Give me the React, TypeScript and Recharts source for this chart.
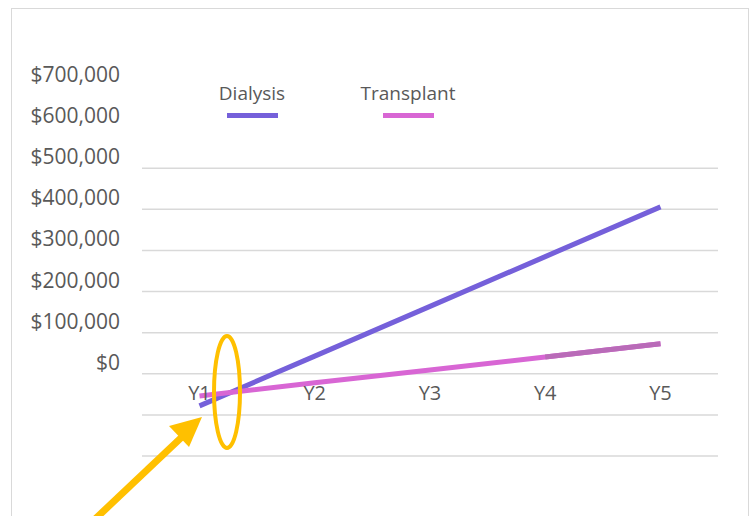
import { LineChart, Line, XAxis, YAxis, ReferenceLine, Legend } from 'recharts';

const years = ['Y1', 'Y2', 'Y3', 'Y4', 'Y5'];
const dialysis = [-78000, 43000, 164000, 285000, 406000];
const transplant = [-54000, -22000, 9000, 41000, 73000];
const yTicks = [-200000, -100000, 0, 100000, 200000, 300000, 400000, 500000, 600000, 700000];
const gridValues = [-200000, -100000, 0, 100000, 200000, 300000, 400000, 500000];

const DIALYSIS = '#7560DA';
const TRANSPLANT = '#D866D4';
const TRANSPLANT_TAIL = '#B96BB8';
const TEXT = '#595959';
const FONT = '"Open Sans", sans-serif';

const data = years.map((y, i) => ({
    year: y,
    dialysis: dialysis[i],
    transplant: transplant[i],
    // last segment is drawn in a slightly different shade
    transplantTail: i >= 3 ? transplant[i] : null,
}));

const money = (v: number) => '$' + v.toLocaleString('en-US');

const YTick = ({ x, y, payload }: any) => {
    if (payload.value < 0) return null;
    return (
        <text x={x - 14} y={y - 12} textAnchor="end" dominantBaseline="central"
            fill={TEXT} fontSize={21} fontFamily={FONT}>
            {money(payload.value)}
        </text>
    );
};

const XTick = ({ x, y, payload }: any) => (
    <text x={x} y={y - 66} textAnchor="middle" dominantBaseline="central"
        fill={TEXT} fontSize={20} fontFamily={FONT}>
        {payload.value}
    </text>
);

const legendItems = [
    { name: 'Dialysis', color: DIALYSIS },
    { name: 'Transplant', color: TRANSPLANT },
];

const LegendContent = () => (
    <div style={{ display: 'flex', gap: 52, fontFamily: FONT, height: 38 }}>
        {legendItems.map(item => (
            <div key={item.name} style={{ width: 104, display: 'flex', flexDirection: 'column', alignItems: 'center' }}>
                <span style={{ fontSize: 19, color: TEXT, lineHeight: '26px' }}>{item.name}</span>
                <span style={{ width: 51, height: 5, background: item.color, marginTop: 7 }}></span>
            </div>
        ))}
    </div>
);

export default function App() {
    return (
        <div style={{ position: 'absolute', left: 0, top: 0, width: 752, height: 516, background: '#fff', overflow: 'hidden' }}>
            <div style={{ position: 'absolute', left: 11, top: 8, width: 736, height: 540, border: '1.5px solid #d9d9d9' }}></div>
            <LineChart width={752} height={516} data={data}
                margin={{ top: 48, right: 34, bottom: 30, left: 12 }}>
                <XAxis dataKey="year" axisLine={false} tickLine={false} tickSize={0} height={30}
                    padding={{ left: 57.5, right: 57.5 }} tick={<XTick />} interval={0} />
                <YAxis type="number" domain={[-200000, 700000]} ticks={yTicks} width={130}
                    axisLine={false} tickLine={false} tick={<YTick />} interval={0} />
                {gridValues.map(v => (
                    <ReferenceLine key={v} y={v} stroke="#d9d9d9" strokeWidth={1.5} />
                ))}
                <Legend verticalAlign="top" height={38} content={<LegendContent />}
                    wrapperStyle={{ position: 'absolute', top: 80, left: 200, width: 'auto' }} />
                <Line type="linear" dataKey="dialysis" stroke={DIALYSIS} strokeWidth={5}
                    dot={false} activeDot={false} isAnimationActive={false} />
                <Line type="linear" dataKey="transplant" stroke={TRANSPLANT} strokeWidth={5}
                    dot={false} activeDot={false} isAnimationActive={false} />
                <Line type="linear" dataKey="transplantTail" stroke={TRANSPLANT_TAIL} strokeWidth={5}
                    dot={false} activeDot={false} isAnimationActive={false} />
            </LineChart>
            {/* orange annotation: ellipse round the crossing and arrow pointing at it */}
            <svg width={752} height={516} style={{ position: 'absolute', left: 0, top: 0, pointerEvents: 'none' }}>
                <ellipse cx={227} cy={392} rx={13} ry={56} fill="none" stroke="#FFC000" strokeWidth={4} />
                <line x1={92} y1={522} x2={184} y2={435} stroke="#FFC000" strokeWidth={7} />
                <polygon points="202,417 169,426 189,447" fill="#FFC000" />
            </svg>
        </div>
    );
}
